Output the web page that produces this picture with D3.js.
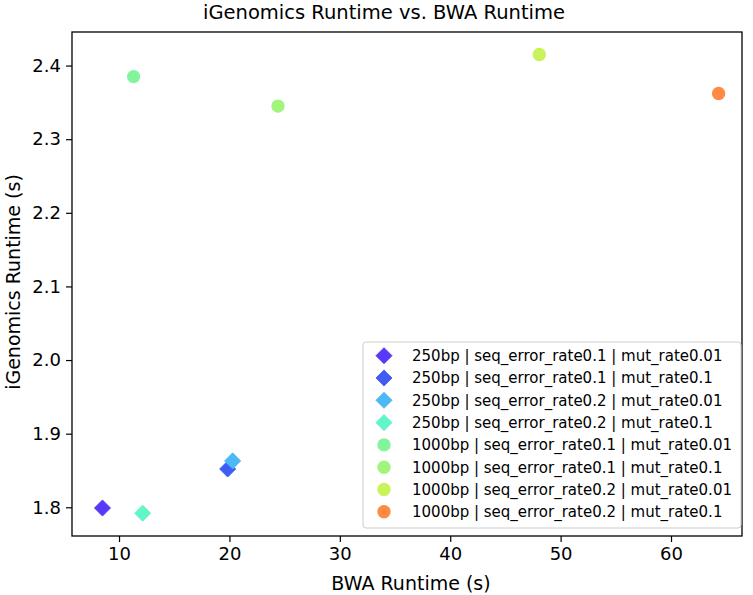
<!DOCTYPE html>
<html>
<head>
<meta charset="utf-8">
<script src="https://cdn.jsdelivr.net/npm/d3@7"></script>
<style>
  body { margin: 0; background: #fff; }
  text { font-family: "DejaVu Sans", sans-serif; fill: #000; }
</style>
</head>
<body>
<svg id="chart" width="753" height="595"></svg>
<script>
// series labels, marker shape and colour
var seriesNames = [
    "250bp | seq_error_rate0.1 | mut_rate0.01",
    "250bp | seq_error_rate0.1 | mut_rate0.1",
    "250bp | seq_error_rate0.2 | mut_rate0.01",
    "250bp | seq_error_rate0.2 | mut_rate0.1",
    "1000bp | seq_error_rate0.1 | mut_rate0.01",
    "1000bp | seq_error_rate0.1 | mut_rate0.1",
    "1000bp | seq_error_rate0.2 | mut_rate0.01",
    "1000bp | seq_error_rate0.2 | mut_rate0.1"
];
var seriesShapes = ["diamond", "diamond", "diamond", "diamond", "circle", "circle", "circle", "circle"];
var seriesColors = ["#5a38f7", "#3f5cf5", "#4cb8f6", "#62f5c9", "#82f59b", "#a2f57c", "#c9f25b", "#ff8a44"];

// one point per series
var bwaRuntime = [8.5, 19.84, 20.29, 12.14, 11.32, 24.4, 48.07, 64.31];
var igRuntime = [1.799, 1.852, 1.863, 1.792, 2.385, 2.345, 2.415, 2.362];

var xTicks = [10, 20, 30, 40, 50, 60];
var yTicks = [1.8, 1.9, 2.0, 2.1, 2.2, 2.3, 2.4];

var svg = d3.select("#chart"),
    plotLeft = 72, plotRight = 742, plotTop = 32, plotBottom = 536;

var x = d3.scaleLinear().domain([5.74, 66.43]).range([plotLeft, plotRight]);
var y = d3.scaleLinear().domain([1.761, 2.4456]).range([plotBottom, plotTop]);

// axes
var xAxis = svg.append("g")
    .attr("transform", "translate(0," + plotBottom + ")")
    .call(d3.axisBottom(x).tickValues(xTicks).tickSize(6).tickPadding(5).tickFormat(d3.format("d")));
var yAxis = svg.append("g")
    .attr("transform", "translate(" + plotLeft + ",0)")
    .call(d3.axisLeft(y).tickValues(yTicks).tickSize(6).tickPadding(5).tickFormat(d3.format(".1f")));

[xAxis, yAxis].forEach(function (g) {
    g.select(".domain").remove();
    g.selectAll(".tick line").attr("stroke", "#000").attr("stroke-width", 1.2);
    g.selectAll(".tick text").style("font-size", "18px").attr("fill", "#000");
});

// frame
svg.append("rect")
    .attr("x", plotLeft).attr("y", plotTop)
    .attr("width", plotRight - plotLeft).attr("height", plotBottom - plotTop)
    .attr("fill", "none").attr("stroke", "#000").attr("stroke-width", 1.3);

var data = seriesNames.map(function (n, i) {
    return { name: n, shape: seriesShapes[i], color: seriesColors[i], x: bwaRuntime[i], y: igRuntime[i] };
});

var diamond = d3.symbol().type(d3.symbolSquare).size(130);
var circle = d3.symbol().type(d3.symbolCircle).size(140);

function drawMarker(g, d) {
    if (d.shape === "diamond") {
        g.append("path").attr("d", diamond).attr("transform", "rotate(45)")
            .attr("fill", d.color).attr("stroke", d.color).attr("stroke-width", 0.8);
    } else {
        g.append("path").attr("d", circle).attr("fill", d.color);
    }
}

// points
svg.selectAll(".pt")
    .data(data)
    .enter().append("g")
    .attr("class", "pt")
    .attr("transform", function (d) { return "translate(" + x(d.x) + "," + y(d.y) + ")"; })
    .each(function (d) { drawMarker(d3.select(this), d); });

// legend
var lg = svg.append("g").attr("transform", "translate(363,342)");
lg.append("rect")
    .attr("width", 378).attr("height", 186).attr("rx", 3)
    .attr("fill", "#fff").attr("fill-opacity", 0.8)
    .attr("stroke", "#cccccc").attr("stroke-width", 1);

lg.selectAll(".item")
    .data(data)
    .enter().append("g")
    .attr("class", "item")
    .attr("transform", function (d, i) { return "translate(21," + (13.7 + i * 22.3) + ")"; })
    .each(function (d) {
        var g = d3.select(this);
        drawMarker(g, d);
        g.append("text")
            .attr("x", 28).attr("dy", "0.36em")
            .style("font-size", "15px")
            .text(d.name);
    });

// titles
svg.append("text")
    .attr("x", 384).attr("y", 19)
    .attr("text-anchor", "middle")
    .style("font-size", "19.5px")
    .text("iGenomics Runtime vs. BWA Runtime");

svg.append("text")
    .attr("x", 411).attr("y", 590)
    .attr("text-anchor", "middle")
    .style("font-size", "19px")
    .text("BWA Runtime (s)");

svg.append("text")
    .attr("transform", "translate(20," + 282 + ") rotate(-90)")
    .attr("text-anchor", "middle")
    .style("font-size", "19px")
    .text("iGenomics Runtime (s)");
</script>
</body>
</html>
